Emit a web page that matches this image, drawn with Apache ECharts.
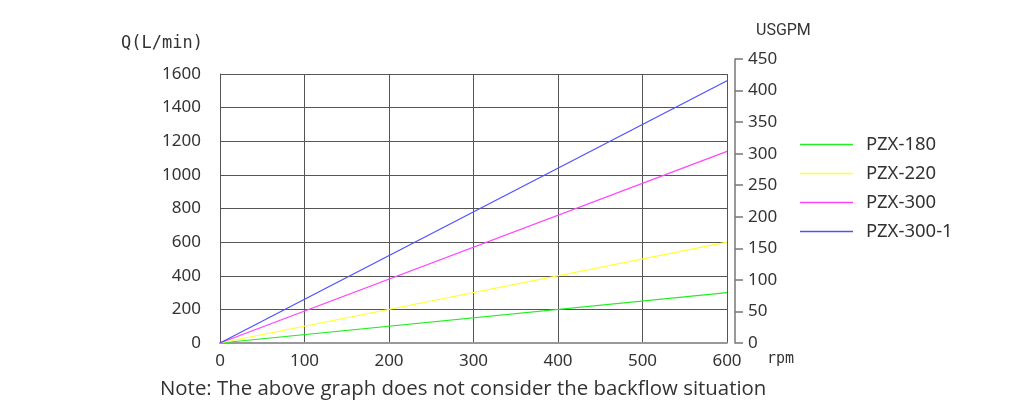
<!DOCTYPE html>
<html>
<head>
<meta charset="utf-8">
<script src="https://cdn.jsdelivr.net/npm/echarts@6/dist/echarts.min.js"></script>
<style>html,body{margin:0;padding:0;background:#fff}#c{width:1024px;height:416px}</style>
</head>
<body>
<div id="c"></div>
<script>
// Data
const rpmPoints = [0, 600];
const seriesNames = ['PZX-180', 'PZX-220', 'PZX-300', 'PZX-300-1'];
const pzx180 = [0, 300];
const pzx220 = [0, 600];
const pzx300 = [0, 1140];
const pzx3001 = [0, 1560];
const seriesColors = ['#22ee22', '#ffff33', '#ff44ff', '#5050ff'];
const noteText = 'Note: The above graph does not consider the backflow situation';

const values = [pzx180, pzx220, pzx300, pzx3001];
const font = 'Noto Sans';
const plain = v => String(v);
const chart = echarts.init(document.getElementById('c'));
chart.setOption({
  animation: false,
  backgroundColor: '#fff',
  title: {
    text: noteText, left: 155, top: 374,
    textStyle: { fontFamily: 'Open Sans', fontSize: 20.4, fontWeight: 'normal', color: '#333' }
  },
  legend: {
    orient: 'vertical', left: 795, top: 130,
    icon: 'rect', itemWidth: 53, itemHeight: 1.5, itemGap: 10,
    textStyle: { fontFamily: font, fontSize: 18.5, lineHeight: 19, color: '#333', padding: [0, 0, 0, 8] },
    data: seriesNames
  },
  grid: [
    { left: 220, top: 74, width: 507, height: 269 },
    { left: 735, top: 59, width: 1, height: 284 }
  ],
  xAxis: [
    {
      gridIndex: 0, type: 'value', min: 0, max: 600, interval: 100,
      name: 'rpm', nameLocation: 'end', nameGap: 40,
      nameTextStyle: { fontFamily: 'DejaVu Sans Mono', fontSize: 15, color: '#333', verticalAlign: 'top', padding: [9, 0, 0, 0] },
      axisLine: { lineStyle: { color: '#999', width: 2 } },
      axisTick: { show: false },
      axisLabel: { fontFamily: font, fontSize: 17, color: '#333', margin: 10, formatter: plain },
      splitLine: { show: true, lineStyle: { color: '#555', width: 1 } }
    },
    { gridIndex: 1, type: 'value', min: 0, max: 1, show: false }
  ],
  yAxis: [
    {
      gridIndex: 0, type: 'value', min: 0, max: 1600, interval: 200,
      name: 'Q(L/min)', nameLocation: 'end', nameGap: 22,
      nameTextStyle: { fontFamily: 'DejaVu Sans Mono', fontSize: 17, color: '#333', align: 'right', padding: [0, 17, 0, 0] },
      axisLine: { show: true, lineStyle: { color: '#555', width: 1 } },
      axisTick: { show: false },
      axisLabel: { fontFamily: font, fontSize: 17, color: '#333', margin: 19, formatter: plain },
      splitLine: { show: true, lineStyle: { color: '#555', width: 1 } }
    },
    {
      gridIndex: 1, type: 'value', min: 0, max: 450, interval: 50, position: 'right',
      name: 'USGPM', nameLocation: 'end', nameGap: 20,
      nameTextStyle: { fontFamily: 'Roboto', fontSize: 16, color: '#333', align: 'left', padding: [0, 0, 0, 21] },
      axisLine: { show: true, lineStyle: { color: '#777', width: 1.5 } },
      axisTick: { show: true, inside: false, length: 8, lineStyle: { color: '#777', width: 1.5 } },
      axisLabel: { fontFamily: font, fontSize: 17, color: '#333', margin: 12, formatter: plain },
      splitLine: { show: false }
    }
  ],
  series: seriesNames.map((n, i) => ({
    name: n, type: 'line', xAxisIndex: 0, yAxisIndex: 0,
    symbol: 'none', color: seriesColors[i],
    lineStyle: { width: 1.2, color: seriesColors[i] },
    data: rpmPoints.map((x, j) => [x, values[i][j]])
  }))
});
</script>
</body>
</html>
